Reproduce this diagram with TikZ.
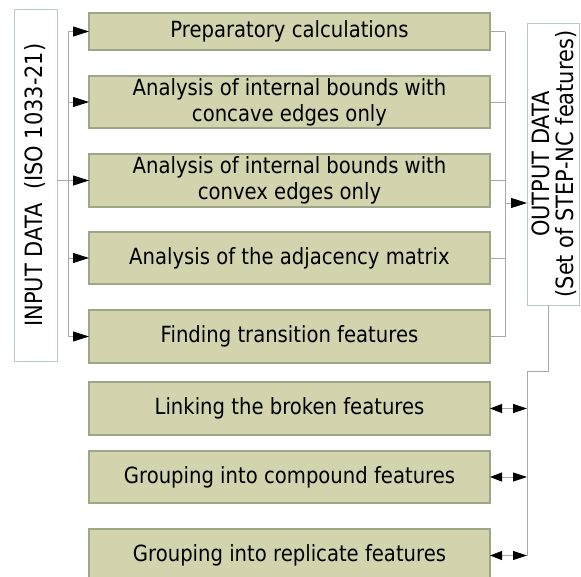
\documentclass[tikz,border=0pt]{standalone}
\usepackage{fontspec}
\setmainfont{DejaVu Sans}[FakeStretch=0.88]
\usetikzlibrary{arrows.meta}
\definecolor{boxfill}{RGB}{211,211,174}
\definecolor{boxline}{RGB}{158,166,136}
\definecolor{wire}{RGB}{168,168,168}
\definecolor{ioline}{RGB}{186,200,200}
\begin{document}
\begin{tikzpicture}[x=1pt,y=-1pt,
  every node/.style={inner sep=0pt, outer sep=0pt},
  stage/.style={draw=boxline, fill=boxfill, line width=1.1pt, anchor=north west,
    minimum width=401pt, align=center, font=\fontsize{22.3}{26}\selectfont},
  iobox/.style={draw=ioline, line width=1pt, fill=white, anchor=north west},
  iotext/.style={rotate=90, align=center, font=\fontsize{23.8}{24}\selectfont},
  wire/.style={draw=wire, line width=0.9pt},
  feed/.style={wire, -{Triangle[length=16pt,width=10pt,color=black]}},
  link/.style={wire, {Triangle[length=12pt,width=9pt,color=black]}-{Triangle[length=14pt,width=9pt,color=black]}}]
\useasboundingbox (0,0) rectangle (581,576);

% processing stages
\node[stage, minimum height=37pt] (b1) at (89,13)  {Preparatory calculations};
\node[stage, minimum height=52pt] (b2) at (89,76)  {Analysis of internal bounds with\\concave edges only};
\node[stage, minimum height=53pt] (b3) at (89,154) {Analysis of internal bounds with\\convex edges only};
\node[stage, minimum height=52pt] (b4) at (89,232) {Analysis of the adjacency matrix};
\node[stage, minimum height=53pt] (b5) at (89,310) {Finding transition features};
\node[stage, minimum height=53pt] (b6) at (89,382) {Linking the broken features};
\node[stage, minimum height=52pt] (b7) at (89,451) {Grouping into compound features};
\node[stage, minimum height=53pt] (b8) at (89,529) {Grouping into replicate features};

% input and output blocks
\node[iobox, minimum width=43pt, minimum height=352pt] (inp) at (14,9) {};
\node[iotext] (inptext) at (inp.center) {INPUT DATA\ \ (ISO 1033-21)};
\node[iobox, minimum width=52pt, minimum height=282pt] (out) at (527,23) {};
\node[iotext] (outtext) at ([xshift=1pt]out.center) {OUTPUT DATA\\(Set of STEP-NC features)};

% input distribution bus
\coordinate (ibus) at (68,0);
\draw[wire] (inp.east |- b3.west) -- (ibus |- b3.west);
\draw[wire] (ibus |- b1.west) -- (ibus |- b5.west);
\foreach \b in {b1,b2,b3,b4,b5}
  \draw[feed] (ibus |- \b.west) -- (\b.west);

% collection bus to the output block
\coordinate (obus) at (505,0);
\draw[wire] (obus |- b1.east) -- (obus |- b5.east);
\foreach \b in {b1,b2,b3,b4,b5}
  \draw[wire] (\b.east) -- (obus |- \b.east);
\coordinate (ojoin) at (505,203);
\draw[feed] (ojoin) -- (ojoin -| out.west);

% feedback bus to the post-processing stages
\coordinate (tap) at ([xshift=21pt]out.south west);
\coordinate (lbus) at (527,371);
\draw[wire] (tap) |- (lbus) -- (lbus |- b8.east);
\foreach \b in {b6,b7,b8}
  \draw[link] (\b.east) -- (lbus |- \b.east);
\end{tikzpicture}
\end{document}
